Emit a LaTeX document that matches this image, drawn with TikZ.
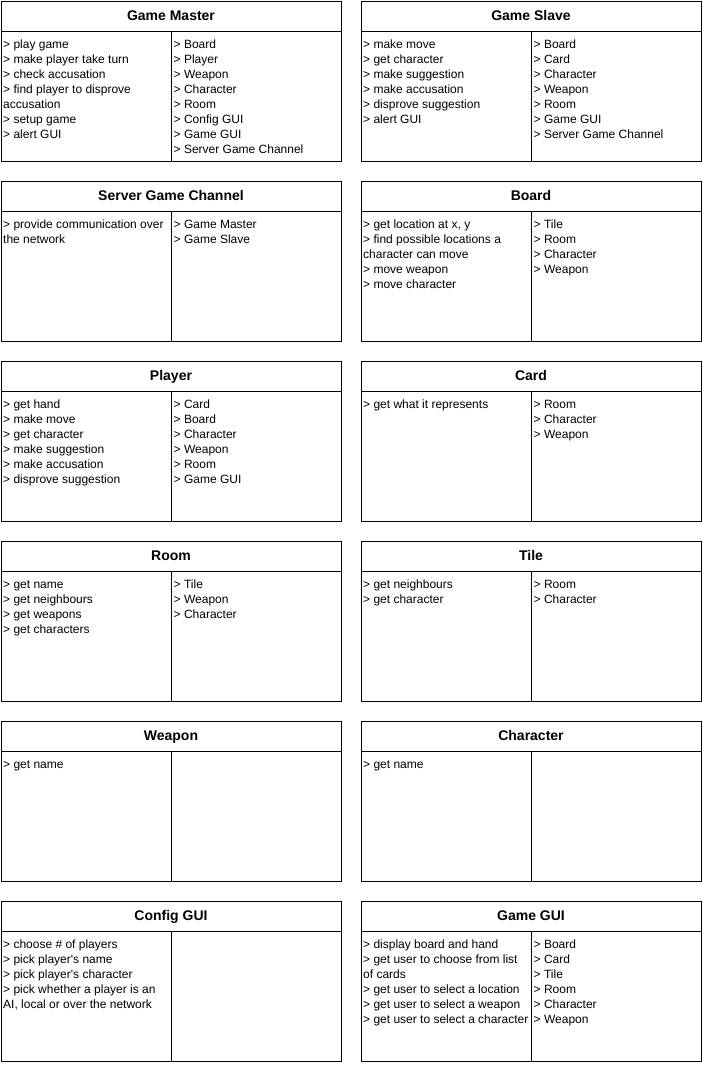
\documentclass[tikz,border=0pt]{standalone}
\usepackage{fontspec}
\setmainfont{Liberation Sans}
\usetikzlibrary{calc}
\tikzset{
  cardbox/.style={draw=black, line width=1pt, anchor=north west, minimum width=340pt, minimum height=160pt, inner sep=0pt, outer sep=0pt},
  cardline/.style={draw=black, line width=1pt},
  titletext/.style={font=\fontsize{14}{16}\selectfont\bfseries, anchor=base, inner sep=0pt},
  celltext/.style={font=\fontsize{12}{15}\selectfont, anchor=base west, inner sep=0pt}
}
\newcommand\crcbox[4]{%
  \node[cardbox] (#1) at (#2,#3) {};
  \node[titletext] (#1-t) at (#2+170,#3+19.8) {#4};
  \coordinate (#1-a) at (#2,#3+30);
  \coordinate (#1-b) at (#2+340,#3+30);
  \coordinate (#1-c) at (#2+170,#3+30);
  \coordinate (#1-d) at (#2+170,#3+160);
  \draw[cardline] (#1-a) -- (#1-b);
  \draw[cardline] (#1-c) -- (#1-d);
}
\newcommand\crcleft[4]{%
  \foreach \t [count=\i from 0] in {#4} {
    \node[celltext] (#1-l\i) at (#2+2,#3+47+15*\i) {\t};
  }
}
\newcommand\crcright[4]{%
  \foreach \t [count=\i from 0] in {#4} {
    \node[celltext] (#1-r\i) at (#2+172.5,#3+47+15*\i) {\t};
  }
}
\begin{document}
\begin{tikzpicture}[x=1pt,y=-1pt]
\useasboundingbox (0,0) rectangle (703,1066);
\fill[white] (0,0) rectangle (703,1066);
% Game Master
\crcbox{gm}{1}{1}{Game Master}
\crcleft{gm}{1}{1}{{> play game},{> make player take turn},{> check accusation},{> find player to disprove},{accusation},{> setup game},{> alert GUI}}
\crcright{gm}{1}{1}{{> Board},{> Player},{> Weapon},{> Character},{> Room},{> Config GUI},{> Game GUI},{> Server Game Channel}}
% Game Slave
\crcbox{gs}{361}{1}{Game Slave}
\crcleft{gs}{361}{1}{{> make move},{> get character},{> make suggestion},{> make accusation},{> disprove suggestion},{> alert GUI}}
\crcright{gs}{361}{1}{{> Board},{> Card},{> Character},{> Weapon},{> Room},{> Game GUI},{> Server Game Channel}}
% Server Game Channel
\crcbox{sgc}{1}{181}{Server Game Channel}
\crcleft{sgc}{1}{181}{{> provide communication over},{the network}}
\crcright{sgc}{1}{181}{{> Game Master},{> Game Slave}}
% Board
\crcbox{bd}{361}{181}{Board}
\crcleft{bd}{361}{181}{{> get location at x, y},{> find possible locations a},{character can move},{> move weapon},{> move character}}
\crcright{bd}{361}{181}{{> Tile},{> Room},{> Character},{> Weapon}}
% Player
\crcbox{pl}{1}{361}{Player}
\crcleft{pl}{1}{361}{{> get hand},{> make move},{> get character},{> make suggestion},{> make accusation},{> disprove suggestion}}
\crcright{pl}{1}{361}{{> Card},{> Board},{> Character},{> Weapon},{> Room},{> Game GUI}}
% Card
\crcbox{cd}{361}{361}{Card}
\crcleft{cd}{361}{361}{{> get what it represents}}
\crcright{cd}{361}{361}{{> Room},{> Character},{> Weapon}}
% Room
\crcbox{rm}{1}{541}{Room}
\crcleft{rm}{1}{541}{{> get name},{> get neighbours},{> get weapons},{> get characters}}
\crcright{rm}{1}{541}{{> Tile},{> Weapon},{> Character}}
% Tile
\crcbox{tl}{361}{541}{Tile}
\crcleft{tl}{361}{541}{{> get neighbours},{> get character}}
\crcright{tl}{361}{541}{{> Room},{> Character}}
% Weapon
\crcbox{wp}{1}{721}{Weapon}
\crcleft{wp}{1}{721}{{> get name}}
% Character
\crcbox{ch}{361}{721}{Character}
\crcleft{ch}{361}{721}{{> get name}}
% Config GUI
\crcbox{cg}{1}{901}{Config GUI}
\crcleft{cg}{1}{901}{{> choose \# of players},{> pick player\textquotesingle s name},{> pick player\textquotesingle s character},{> pick whether a player is an},{AI, local or over the network}}
% Game GUI
\crcbox{gg}{361}{901}{Game GUI}
\crcleft{gg}{361}{901}{{> display board and hand},{> get user to choose from list},{of cards},{> get user to select a location},{> get user to select a weapon},{> get user to select a character}}
\crcright{gg}{361}{901}{{> Board},{> Card},{> Tile},{> Room},{> Character},{> Weapon}}
\end{tikzpicture}
\end{document}
